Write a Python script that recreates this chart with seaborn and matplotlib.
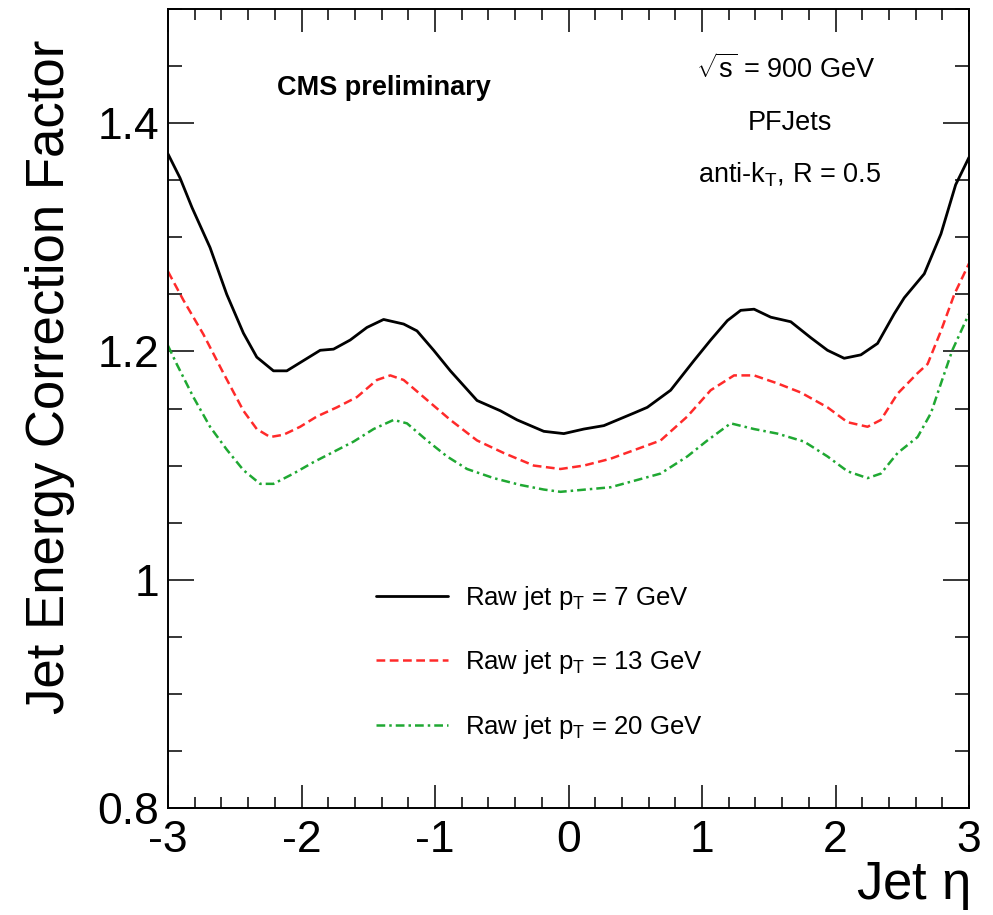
import matplotlib
matplotlib.use("Agg")
import matplotlib.pyplot as plt
from matplotlib.ticker import MultipleLocator, FuncFormatter
import seaborn as sns
import pandas as pd

# ---- data ----
eta_pt7 = [-3.0, -2.91, -2.82, -2.685, -2.56, -2.435, -2.335, -2.21, -2.11, -1.985,
           -1.86, -1.76, -1.635, -1.51, -1.385, -1.235, -1.135, -1.01, -0.885, -0.685,
           -0.51, -0.385, -0.185, -0.035, 0.115, 0.265, 0.49, 0.59, 0.765, 0.94,
           1.065, 1.19, 1.29, 1.39, 1.515, 1.665, 1.815, 1.94, 2.065, 2.19,
           2.315, 2.44, 2.515, 2.665, 2.79, 2.9, 3.0]
jec_pt7 = [1.373, 1.352, 1.326, 1.291, 1.250, 1.216, 1.195, 1.183, 1.183, 1.192,
           1.201, 1.202, 1.210, 1.221, 1.228, 1.224, 1.218, 1.201, 1.183, 1.157,
           1.148, 1.140, 1.130, 1.128, 1.132, 1.135, 1.146, 1.151, 1.166, 1.192,
           1.210, 1.227, 1.236, 1.237, 1.230, 1.226, 1.212, 1.201, 1.194, 1.197,
           1.207, 1.233, 1.247, 1.268, 1.303, 1.346, 1.370]

eta_pt13 = [-3.0, -2.885, -2.735, -2.585, -2.435, -2.335, -2.235, -2.135, -2.01, -1.885,
            -1.735, -1.585, -1.435, -1.335, -1.235, -1.085, -0.885, -0.685, -0.485, -0.26,
            -0.06, 0.115, 0.315, 0.69, 0.89, 1.065, 1.24, 1.39, 1.565, 1.74,
            1.94, 2.09, 2.24, 2.34, 2.465, 2.615, 2.69, 2.79, 2.89, 3.0]
jec_pt13 = [1.270, 1.245, 1.215, 1.181, 1.148, 1.132, 1.125, 1.127, 1.134, 1.143,
            1.151, 1.160, 1.175, 1.179, 1.175, 1.160, 1.140, 1.122, 1.111, 1.100,
            1.097, 1.100, 1.106, 1.122, 1.143, 1.166, 1.179, 1.179, 1.172, 1.164,
            1.151, 1.138, 1.134, 1.140, 1.163, 1.181, 1.189, 1.218, 1.250, 1.277]

eta_pt20 = [-3.0, -2.935, -2.81, -2.685, -2.56, -2.435, -2.31, -2.21, -2.06, -1.91,
            -1.76, -1.61, -1.46, -1.31, -1.21, -1.06, -0.91, -0.76, -0.56, -0.36,
            -0.185, -0.06, 0.315, 0.69, 0.89, 1.04, 1.215, 1.39, 1.565, 1.765,
            1.94, 2.09, 2.24, 2.34, 2.465, 2.615, 2.715, 2.79, 2.875, 3.0]
jec_pt20 = [1.205, 1.189, 1.160, 1.134, 1.114, 1.096, 1.084, 1.084, 1.093, 1.103,
            1.112, 1.121, 1.132, 1.140, 1.137, 1.122, 1.108, 1.097, 1.089, 1.083,
            1.079, 1.077, 1.081, 1.093, 1.108, 1.122, 1.137, 1.132, 1.128, 1.121,
            1.108, 1.095, 1.089, 1.093, 1.111, 1.125, 1.146, 1.172, 1.201, 1.233]

series_labels = [r"Raw jet p$_{T}$ = 7 GeV",
                 r"Raw jet p$_{T}$ = 13 GeV",
                 r"Raw jet p$_{T}$ = 20 GeV"]
x_ticks = [-3, -2, -1, 0, 1, 2, 3]
y_ticks = [0.8, 1.0, 1.2, 1.4]

# ---- style ----
sns.set_theme(style="ticks")
FONT = "Liberation Sans"
plt.rcParams["font.family"] = [FONT, "DejaVu Sans"]
plt.rcParams["mathtext.fontset"] = "custom"
plt.rcParams["mathtext.rm"] = FONT
plt.rcParams["mathtext.it"] = FONT + ":italic"
plt.rcParams["mathtext.bf"] = FONT + ":bold"
plt.rcParams["mathtext.default"] = "regular"
plt.rcParams["axes.unicode_minus"] = False
for k in ["text.color", "axes.labelcolor", "xtick.color", "ytick.color",
          "xtick.labelcolor", "ytick.labelcolor", "axes.edgecolor"]:
    plt.rcParams[k] = "black"

fig = plt.figure(figsize=(9.93, 9.15), dpi=100)
W, H = 993, 915
L, R, T, B = 168, 969, 9, 808
ax = fig.add_axes([L / W, 1 - B / H, (R - L) / W, (B - T) / H])

styles = [
    dict(color="black", lw=2.0, ls="-"),
    dict(color="#ff2a2a", lw=1.8, ls=(0, (3.5, 1.8))),
    dict(color="#1fa832", lw=1.8, ls=(0, (3.5, 1.6, 1.0, 1.6))),
]
dfs = [pd.DataFrame({"eta": eta_pt7, "jec": jec_pt7}),
       pd.DataFrame({"eta": eta_pt13, "jec": jec_pt13}),
       pd.DataFrame({"eta": eta_pt20, "jec": jec_pt20})]
for df, lab, st in zip(dfs, series_labels, styles):
    sns.lineplot(data=df, x="eta", y="jec", ax=ax, label=lab,
                 color=st["color"], linewidth=st["lw"], linestyle=st["ls"])

ax.set_xlim(-3, 3)
ax.set_ylim(0.8, 1.5)
ax.set_xticks(x_ticks)
ax.set_yticks(y_ticks)
ax.xaxis.set_minor_locator(MultipleLocator(0.2))
ax.yaxis.set_minor_locator(MultipleLocator(0.05))
ax.yaxis.set_major_formatter(FuncFormatter(lambda v, p: "%g" % v))
ax.xaxis.set_major_formatter(FuncFormatter(lambda v, p: "%g" % v))

for s in ax.spines.values():
    s.set_linewidth(1.4)
    s.set_color("black")

ax.tick_params(axis="both", which="both", direction="in", top=True, right=True,
               colors="black", labelcolor="black", width=1.1)
ax.tick_params(axis="y", which="major", length=18.5, labelsize=32, pad=6.5)
ax.tick_params(axis="y", which="minor", length=10)
ax.tick_params(axis="x", which="major", length=16.5, labelsize=32, pad=9)
ax.tick_params(axis="x", which="minor", length=8)

ax.set_xlabel(r"Jet $\eta$", fontsize=38, loc="right", color="black")
ax.set_ylabel("Jet Energy Correction Factor", fontsize=38, loc="top", color="black")
ax.yaxis.set_label_coords((75 - L) / (R - L), (B - 40) / (B - T))
ax.xaxis.set_label_coords(1.0, (B - 860) / (B - T))

def axfrac(px, py):
    return (px - L) / (R - L), (B - py) / (B - T)

ax.text(*axfrac(277, 95), "CMS preliminary", transform=ax.transAxes,
        fontsize=19.5, fontweight="bold", ha="left", va="baseline", color="black")
ax.text(*axfrac(786, 78), r"$\sqrt{s}$ = 900 GeV", transform=ax.transAxes,
        fontsize=19.5, ha="center", va="baseline", color="black")
ax.text(*axfrac(790, 130), "PFJets", transform=ax.transAxes,
        fontsize=19.5, ha="center", va="baseline", color="black")
ax.text(*axfrac(790, 182), r"anti-k$_{T}$, R = 0.5", transform=ax.transAxes,
        fontsize=19.5, ha="center", va="baseline", color="black")

leg = ax.legend(loc="upper left", bbox_to_anchor=axfrac(376, 584),
                frameon=False, fontsize=18.5, handlelength=2.8,
                handletextpad=0.65, labelspacing=1.42, borderpad=0,
                borderaxespad=0)
for t in leg.get_texts():
    t.set_color("black")

fig.savefig("out.png", dpi=100, facecolor="white")
